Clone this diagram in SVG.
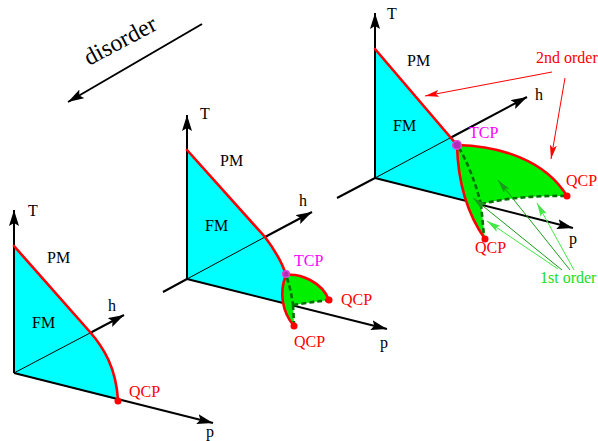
<svg xmlns="http://www.w3.org/2000/svg" width="598" height="441" viewBox="0 0 598 441">
<style>
text{font-family:"Liberation Serif","Times New Roman",serif;font-size:16px}
.k{fill:#000}
.r{fill:#ff0000}
.m{fill:#ff00ff}
.g{fill:#22dd22}
.cyan{fill:#00ffff;stroke:none}
.grn{fill:#00f000;stroke:none}
.ax{stroke:#000;stroke-width:2;fill:none}
.ax1{stroke:#000;stroke-width:1;fill:none}
.red{stroke:#ff0000;stroke-width:2.6;fill:none;stroke-linecap:round}
.dash{stroke:#007000;stroke-width:2.6;fill:none;stroke-dasharray:5 3}
.qcp{fill:#ff0000}
.tcp{fill:#b030b0;stroke:#e040e0;stroke-width:1.5}
.ann2{stroke:#ff0000;stroke-width:1;fill:none}
.ann1a{stroke:#1a9a1a;stroke-width:1;fill:none}
.ann1b{stroke:#44e844;stroke-width:1;fill:none}
</style>
<defs>
<marker id="ah" markerWidth="16" markerHeight="10" refX="16" refY="5" orient="auto" markerUnits="userSpaceOnUse"><path d="M0,0 L16,5 L0,10 L3,5 z" fill="#000"/></marker>
<marker id="ahr" markerWidth="14" markerHeight="7" refX="14" refY="3.5" orient="auto" markerUnits="userSpaceOnUse"><path d="M0,0 L14,3.5 L0,7 L3,3.5 z" fill="#ff0000"/></marker>
<marker id="ahg1" markerWidth="14" markerHeight="7" refX="14" refY="3.5" orient="auto" markerUnits="userSpaceOnUse"><path d="M0,0 L14,3.5 L0,7 L3,3.5 z" fill="#1a9a1a"/></marker>
<marker id="ahg2" markerWidth="14" markerHeight="7" refX="14" refY="3.5" orient="auto" markerUnits="userSpaceOnUse"><path d="M0,0 L14,3.5 L0,7 L3,3.5 z" fill="#44e844"/></marker>
</defs>
<rect width="598" height="441" fill="#fff"/>

<g id="disorder">
<line x1="202" y1="24" x2="68" y2="102" class="ax" marker-end="url(#ah)"/>
<text x="89" y="66" font-size="24" style="font-size:24px" transform="rotate(-28 89 66)" class="k">disorder</text>
</g>

<g id="panel1">
<path class="cyan" d="M14,373 L14,246 L90,332 C104,348 116,368 118,400 Z"/>
<line class="ax1" x1="14" y1="373" x2="90" y2="333"/>
<line class="ax" x1="90" y1="333" x2="124" y2="315" marker-end="url(#ah)"/>
<line class="ax" x1="14" y1="373" x2="14" y2="210" marker-end="url(#ah)"/>
<line class="ax" x1="14" y1="373" x2="213" y2="423" marker-end="url(#ah)"/>
<path class="red" d="M14,246 L90,332 C104,348 116,368 118,400"/>
<circle class="qcp" cx="118" cy="401" r="3.5"/>
<text x="28" y="216" class="k">T</text>
<text x="47" y="263" class="k">PM</text>
<text x="32" y="328" class="k">FM</text>
<text x="108" y="311" class="k">h</text>
<text x="129" y="397" class="r">QCP</text>
<text x="206" y="437" class="k">p</text>
</g>

<g id="panel2">
<path class="cyan" d="M187,279 L187,150 L265,237 C277,253 283,265 286,275 C280,285 281,296 283,303 Z"/>
<line class="ax1" x1="187" y1="279" x2="265" y2="237"/>
<line class="ax" x1="265" y1="237" x2="312" y2="212" marker-end="url(#ah)"/>
<line class="ax" x1="163" y1="292" x2="187" y2="279"/>
<line class="ax" x1="187" y1="279" x2="187" y2="115" marker-end="url(#ah)"/>
<line class="ax" x1="187" y1="279" x2="387" y2="329" marker-end="url(#ah)"/>
<path class="grn" d="M286,275 C300,273 322,282 329,300 Q312,302 293,305 L294,326 C282,312 279,292 286,275 Z"/>
<path class="dash" d="M287,278 Q291,290 293,305 M293,305 Q312,302 329,300 M293,305 L294,323"/>
<path class="red" d="M187,150 L265,237 C277,253 283,265 286,275"/>
<path class="red" d="M286,275 C300,273 322,282 329,300"/>
<path class="red" d="M286,275 C279,292 282,312 294,326"/>
<circle class="qcp" cx="329" cy="300" r="3.5"/>
<circle class="qcp" cx="294" cy="326" r="3.5"/>
<circle class="tcp" cx="286" cy="274" r="3.3"/>
<text x="200" y="119" class="k">T</text>
<text x="220" y="166" class="k">PM</text>
<text x="205" y="231" class="k">FM</text>
<text x="299" y="206" class="k">h</text>
<text x="294" y="266" class="m">TCP</text>
<text x="341" y="305" class="r">QCP</text>
<text x="294" y="347" class="r">QCP</text>
<text x="380" y="348" class="k">p</text>
</g>

<g id="panel3">
<path class="cyan" d="M375,178 L375,49 L457,145 C458,170 461,188 466,201 Z"/>
<line class="ax1" x1="375" y1="178" x2="450" y2="138"/>
<line class="ax" x1="450" y1="138" x2="527" y2="97" marker-end="url(#ah)"/>
<line class="ax" x1="337" y1="198" x2="375" y2="178"/>
<line class="ax" x1="375" y1="178" x2="375" y2="13" marker-end="url(#ah)"/>
<line class="ax" x1="375" y1="178" x2="573" y2="228" marker-end="url(#ah)"/>
<path class="grn" d="M457,145 C500,146 545,160 567,196 Q520,195 481,204 L485,239 C468,215 458,185 457,145 Z"/>
<path class="dash" d="M459,148 Q472,170 481,204 M481,204 Q520,195 567,196 M481,204 L484,236"/>
<path class="red" d="M375,49 L457,145"/>
<path class="red" d="M457,145 C500,146 545,160 567,196"/>
<path class="red" d="M457,145 C458,185 468,215 485,239"/>
<circle class="qcp" cx="567" cy="196" r="3.5"/>
<circle class="qcp" cx="485" cy="239" r="3.5"/>
<circle class="tcp" cx="457" cy="145" r="4.3"/>
<text x="387" y="19" class="k">T</text>
<text x="407" y="66" class="k">PM</text>
<text x="393" y="131" class="k">FM</text>
<text x="535" y="100" class="k">h</text>
<text x="469" y="138" class="m">TCP</text>
<text x="566" y="186" class="r">QCP</text>
<text x="475" y="253" class="r">QCP</text>
<text x="569" y="244" class="k">p</text>
</g>

<g id="connectors">
<line class="ann2" x1="552" y1="72" x2="425" y2="96" marker-end="url(#ahr)"/>
<line class="ann2" x1="565" y1="78" x2="551" y2="159" marker-end="url(#ahr)"/>
<line class="ann1a" x1="562" y1="270" x2="473" y2="198" marker-end="url(#ahg1)"/>
<line class="ann1a" x1="570" y1="270" x2="498" y2="180" marker-end="url(#ahg1)"/>
<line class="ann1b" x1="558" y1="269" x2="487" y2="221" marker-end="url(#ahg2)"/>
<line class="ann1b" x1="574" y1="270" x2="537" y2="203" marker-end="url(#ahg2)"/>
</g>
<g id="labels">
<text x="536" y="63" class="r">2nd order</text>
<text x="540" y="283" class="g">1st order</text>
</g>
</svg>
